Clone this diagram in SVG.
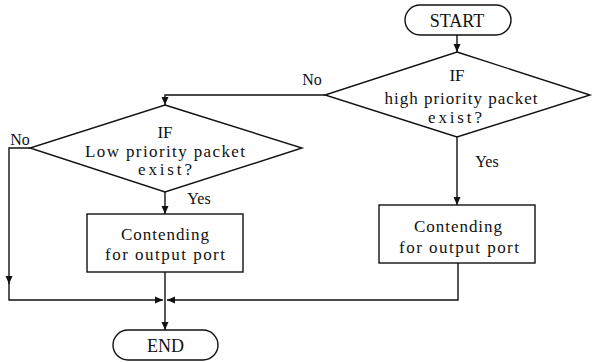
<svg xmlns="http://www.w3.org/2000/svg" width="593" height="362" viewBox="0 0 593 362">
<defs>
<style>
.shape{fill:#fff;stroke:#111;stroke-width:1.4}
.conn{fill:none;stroke:#111;stroke-width:1.4}
text{font-family:"Liberation Serif","Times New Roman",serif;fill:#111;text-anchor:middle}
.t{font-size:17px}
.term{font-size:18px}
.lbl{font-size:16px}
</style>
<marker id="ah" markerUnits="userSpaceOnUse" markerWidth="8" markerHeight="8" refX="8" refY="4" orient="auto">
<path d="M0,0.5 L8,4 L0,7.5 z" fill="#111"/>
</marker>
</defs>
<rect width="593" height="362" fill="#fff"/>

<g id="connectors">
<path class="conn" d="M457,35 V52" marker-end="url(#ah)"/>
<path class="conn" d="M325,95 H165 V105" marker-end="url(#ah)"/>
<path class="conn" d="M457,137 V205" marker-end="url(#ah)"/>
<path class="conn" d="M165,192 V214" marker-end="url(#ah)"/>
<path class="conn" d="M30,148 H9 V284" marker-end="url(#ah)"/>
<path class="conn" d="M9,283 V300 H163" marker-end="url(#ah)"/>
<path class="conn" d="M458,263 V300 H167" marker-end="url(#ah)"/>
<path class="conn" d="M165,272 V330" marker-end="url(#ah)"/>
<text class="lbl" x="312" y="85">No</text>
<text class="lbl" x="20" y="145">No</text>
<text class="lbl" x="487" y="167">Yes</text>
<text class="lbl" x="199" y="204">Yes</text>
</g>

<g id="start">
<rect class="shape" x="405" y="5" width="106" height="30" rx="15" ry="15"/>
<text class="term" x="457" y="27">START</text>
</g>

<g id="decision-high">
<polygon class="shape" points="457,52 590,95 457,137 325,95"/>
<text class="t" x="457" y="81">IF</text>
<text class="t" x="461" y="104" textLength="153" lengthAdjust="spacing">high priority packet</text>
<text class="t" x="455" y="123" textLength="54" lengthAdjust="spacing">exist?</text>
</g>

<g id="decision-low">
<polygon class="shape" points="165,105 302,148 165,192 30,148"/>
<text class="t" x="165" y="138">IF</text>
<text class="t" x="165" y="157" textLength="160" lengthAdjust="spacing">Low priority packet</text>
<text class="t" x="165" y="175" textLength="54" lengthAdjust="spacing">exist?</text>
</g>

<g id="contend-low">
<rect class="shape" x="87" y="214" width="156" height="58"/>
<text class="t" x="165" y="240" textLength="88" lengthAdjust="spacing">Contending</text>
<text class="t" x="165" y="260" textLength="120" lengthAdjust="spacing">for output port</text>
</g>

<g id="contend-high">
<rect class="shape" x="379" y="205" width="156" height="58"/>
<text class="t" x="458" y="232" textLength="88" lengthAdjust="spacing">Contending</text>
<text class="t" x="459" y="253" textLength="120" lengthAdjust="spacing">for output port</text>
</g>

<g id="end">
<rect class="shape" x="113" y="330" width="105" height="30" rx="15" ry="15"/>
<text class="term" x="165.5" y="352">END</text>
</g>
</svg>
